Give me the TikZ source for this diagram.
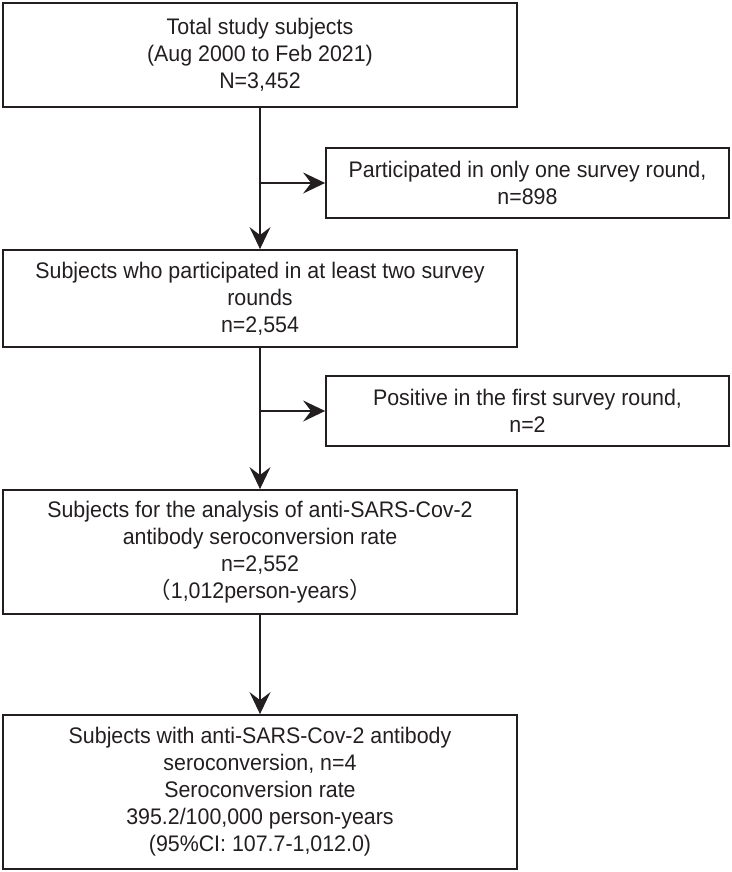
\documentclass[tikz,border=0pt]{standalone}
\usepackage{fontspec}
\setmainfont{Liberation Sans}[FakeStretch=0.95]
\newfontfamily\cjk{Noto Sans CJK SC}
\usetikzlibrary{arrows.meta}
\definecolor{ink}{HTML}{231F20}
\tikzset{
  box/.style={draw=ink, line width=1.8pt, text=ink, align=center, inner sep=0pt,
    font=\fontsize{22.5}{27}\selectfont},
  arr/.style={draw=ink, line width=1.8pt, -{Stealth[length=22pt,width=21pt,inset=8pt]}}
}
\begin{document}
\begin{tikzpicture}[x=1pt,y=1pt]
\useasboundingbox (0,0) rectangle (731,872);
\node[box, minimum width=514pt, minimum height=104pt] (b1) at (260,817)
  {Total study subjects\\(Aug 2000 to Feb 2021)\\N=3,452};
\node[box, minimum width=403pt, minimum height=70pt] (s1) at (527.5,689)
  {Participated in only one survey round,\\n=898};
\node[box, minimum width=514pt, minimum height=97pt] (b2) at (260,573.5)
  {Subjects who participated in at least two survey\\rounds\\n=2,554};
\node[box, minimum width=403pt, minimum height=70pt] (s2) at (527.5,461)
  {Positive in the first survey round,\\n=2};
\node[box, minimum width=514pt, minimum height=124pt] (b3) at (260,320)
  {Subjects for the analysis of anti-SARS-Cov-2\\antibody seroconversion rate\\n=2,552\\{\cjk （}1,012person-years{\cjk ）}};
\node[box, minimum width=514pt, minimum height=154pt] (b4) at (260,80)
  {Subjects with anti-SARS-Cov-2 antibody\\seroconversion, n=4\\Seroconversion rate\\395.2/100,000 person-years\\(95\%CI: 107.7-1,012.0)};
\draw[arr] (b1.south) -- (b2.north);
\draw[arr] (b1.south |- s1.west) -- (s1.west);
\draw[arr] (b2.south) -- (b3.north);
\draw[arr] (b2.south |- s2.west) -- (s2.west);
\draw[arr] (b3.south) -- (b4.north);
\end{tikzpicture}
\end{document}
